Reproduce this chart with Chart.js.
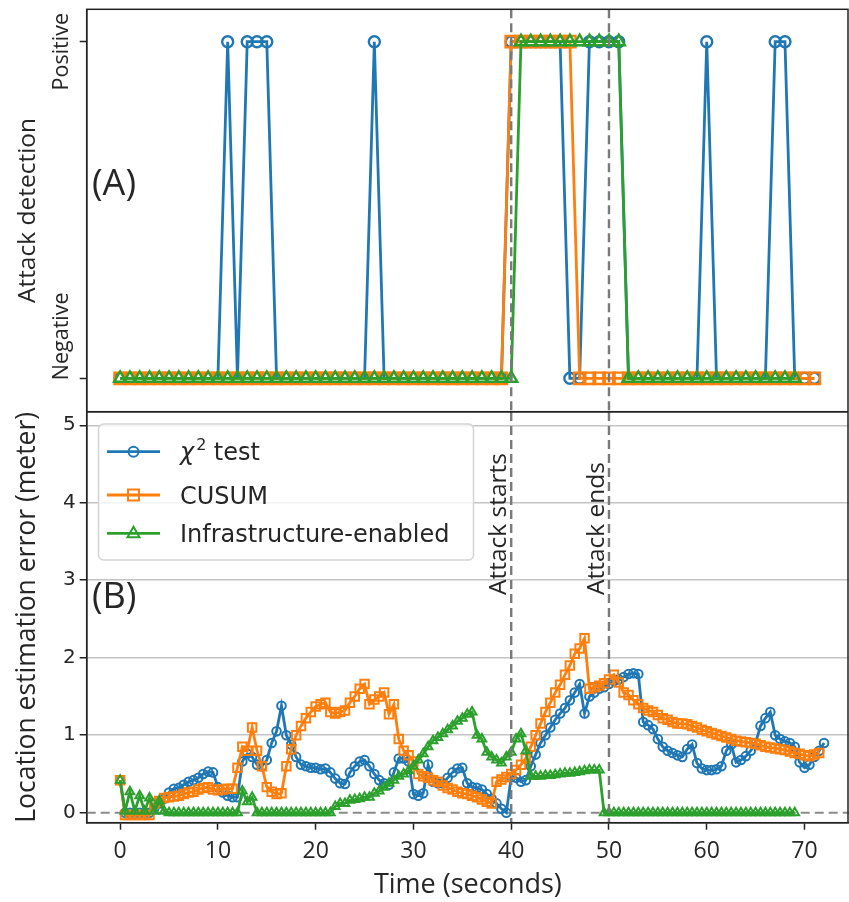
<!DOCTYPE html>
<html>
<head>
<meta charset="utf-8">
<script src="https://cdn.jsdelivr.net/npm/chart.js@4.4.0/dist/chart.umd.min.js"></script>
<style>
  html, body { margin: 0; padding: 0; background: #fff; }
  #wrap { position: relative; width: 849px; height: 902px; overflow: hidden; }
  #wrap canvas { position: absolute; left: 0; }
  #cA { top: 0; }
  #cB { top: 412px; }
</style>
</head>
<body>
<div id="wrap">
  <canvas id="cA" width="849" height="412"></canvas>
  <canvas id="cB" width="849" height="490"></canvas>
</div>
<script>
// ── data ────────────────────────────────────
const DET_STEP = 1;     // seconds between detection samples (panel A)
const ERR_STEP = 0.5;   // seconds between error samples (panel B)

const seriesNames = ['test', 'CUSUM', 'Infrastructure-enabled'];
const timeTicks = [0, 10, 20, 30, 40, 50, 60, 70];
const errTicks = [0, 1, 2, 3, 4, 5];
const detTicks = [0, 1];
const detLabels = ['Negative', 'Positive'];
const attackTimes = [40, 50];
const attackLabels = ['Attack starts', 'Attack ends'];

// panel A: detection result, one value per second
const chiDetect = [0,0,0,0,0,0,0,0,0,0,0, 1,0,1,1,1, 0,0,0,0,0,0,0,0,0,0, 1,
  0,0,0,0,0,0,0,0,0,0,0,0,0, 1,1,1,1,1,1, 0,0, 1,1,1,1, 0,0,0,0,0,0,0,0, 1,
  0,0,0,0,0,0, 1,1, 0,0,0];
const cusumDetect = [0,0,0,0,0,0,0,0,0,0, 0,0,0,0,0,0,0,0,0,0, 0,0,0,0,0,0,0,0,0,0,
  0,0,0,0,0,0,0,0,0,0, 1,1,1,1,1,1,1, 0,0,0, 0,0,0,0,0,0,0,0,0,0, 0,0,0,0,0,0,0,0,0,0, 0,0];
const infraDetect = [0,0,0,0,0,0,0,0,0,0, 0,0,0,0,0,0,0,0,0,0, 0,0,0,0,0,0,0,0,0,0,
  0,0,0,0,0,0,0,0,0,0, 0, 1,1,1,1,1,1,1,1,1,1,1, 0,0,0,0,0,0,0,0,0,0, 0,0,0,0,0,0,0,0];

// panel B: location estimation error (meter), every 0.5 s
const chiError = [
  0.42,0,0,0,0,0,0,0.06,0.12,0.18,
  0.26,0.31,0.32,0.36,0.4,0.42,0.45,0.5,0.53,0.52,
  0.33,0.26,0.22,0.2,0.2,0.66,0.76,0.72,0.62,0.6,
  0.68,0.9,1.05,1.38,1.0,0.88,0.72,0.62,0.6,0.58,
  0.58,0.56,0.57,0.52,0.44,0.38,0.37,0.52,0.6,0.66,
  0.68,0.6,0.5,0.42,0.38,0.36,0.52,0.7,0.7,0.66,
  0.24,0.22,0.25,0.62,0.4,0.38,0.38,0.45,0.52,0.57,
  0.58,0.38,0.33,0.32,0.3,0.24,0.18,0.12,0.05,0.0,
  0.46,0.45,0.4,0.42,0.6,0.75,0.9,1.0,1.1,1.2,
  1.28,1.35,1.45,1.55,1.66,1.28,1.5,1.55,1.6,1.62,
  1.66,1.7,1.72,1.75,1.79,1.8,1.79,1.17,1.13,1.08,
  0.95,0.85,0.8,0.77,0.74,0.72,0.82,0.88,0.64,0.57,
  0.55,0.55,0.56,0.6,0.8,0.88,0.65,0.68,0.73,0.8,
  0.9,1.12,1.22,1.3,1.0,0.95,0.92,0.9,0.85,0.65,
  0.58,0.62,0.72,0.8,0.9
];
const cusumError = [
  0.42,-0.03,-0.03,-0.03,-0.03,-0.03,-0.03,0.12,0.15,0.19,
  0.2,0.21,0.22,0.24,0.26,0.27,0.3,0.32,0.33,0.3,
  0.29,0.3,0.31,0.31,0.58,0.85,0.8,1.1,0.8,0.6,
  0.33,0.27,0.24,0.25,0.6,0.82,1.0,1.12,1.22,1.3,
  1.37,1.4,1.42,1.3,1.28,1.3,1.32,1.42,1.5,1.6,
  1.66,1.4,1.46,1.5,1.55,1.27,1.4,0.95,0.8,0.74,
  0.66,0.5,0.47,0.45,0.42,0.4,0.35,0.32,0.3,0.27,
  0.25,0.24,0.22,0.2,0.17,0.14,0.12,0.4,0.43,0.46,
  0.5,0.55,0.62,0.7,0.85,1.0,1.15,1.3,1.42,1.55,
  1.65,1.78,1.9,2.05,2.12,2.25,1.6,1.62,1.64,1.67,
  1.72,1.78,1.68,1.55,1.52,1.45,1.4,1.35,1.32,1.3,
  1.26,1.22,1.2,1.17,1.15,1.15,1.14,1.12,1.1,1.07,
  1.05,1.03,1.01,0.99,0.97,0.95,0.93,0.92,0.91,0.9,
  0.89,0.87,0.85,0.84,0.83,0.82,0.81,0.79,0.77,0.76,
  0.74,0.73,0.75,0.77
];
const infraError = [
  0.42,0.02,0.27,0.02,0.22,0.02,0.19,0.02,0.15,0.02,
  0,0,0,0,0,0,0,0,0,0,
  0,0,0,0,0,0.28,0.14,0.2,0,0,
  0,0,0,0,0,0,0,0,0,0,
  0,0,0,0,0.08,0.12,0.12,0.16,0.17,0.18,
  0.2,0.2,0.25,0.28,0.33,0.38,0.42,0.47,0.5,0.54,
  0.6,0.68,0.76,0.85,0.93,0.97,1.02,1.07,1.12,1.18,
  1.22,1.27,1.3,1.0,0.95,0.78,0.72,0.68,0.64,0.72,
  0.78,0.95,1.02,0.8,0.47,0.47,0.47,0.48,0.48,0.49,
  0.5,0.51,0.51,0.52,0.53,0.54,0.55,0.55,0.55,0,
  0,0,0,0,0,0,0,0,0,0,
  0,0,0,0,0,0,0,0,0,0,
  0,0,0,0,0,0,0,0,0,0,
  0,0,0,0,0,0,0,0,0
];

// ── style ───────────────────────────────────
const COLORS = ['#1f77b4', '#ff7f0e', '#2ca02c'];
const STYLES = ['circle', 'rect', 'triangle'];
const INK = '#262626';
const X_MIN = -3.42, X_MAX = 74.55;

Chart.defaults.font.family = '"Open Sans"';
Chart.defaults.color = INK;

function toPoints(vals, step) {
  return vals.map((v, i) => ({ x: i * step, y: v }));
}

function lineSet(k, vals, step, big) {
  return {
    label: seriesNames[k],
    data: toPoints(vals, step),
    borderColor: COLORS[k],
    backgroundColor: 'rgba(0,0,0,0)',
    borderWidth: 2.8,
    pointStyle: STYLES[k],
    pointRadius: big ? [5.5, 8, 7][k] : [4.3, 6, 5][k],
    pointBorderWidth: big ? 2.4 : 2,
    pointBorderColor: COLORS[k],
    pointBackgroundColor: 'rgba(0,0,0,0)',
    tension: 0,
    order: 3 - k,
  };
}

function vLine(ctx, x, y0, y1) {
  ctx.beginPath(); ctx.moveTo(x, y0); ctx.lineTo(x, y1); ctx.stroke();
}

// dashed attack markers (+ labels on panel B)
const attackPlugin = {
  id: 'attack',
  afterDatasetsDraw(chart, args, opts) {
    const { ctx, chartArea: a, scales } = chart;
    ctx.save();
    ctx.strokeStyle = '#7a7a7a';
    ctx.lineWidth = 2.4;
    ctx.setLineDash([9, 5]);
    attackTimes.forEach(t => vLine(ctx, scales.x.getPixelForValue(t), a.top, a.bottom));
    ctx.restore();
    if (!opts.labels) return;
    ctx.save();
    ctx.fillStyle = INK;
    ctx.font = '24.5px "Open Sans"';
    ctx.textAlign = 'left';
    ctx.textBaseline = 'alphabetic';
    const yStart = scales.y.getPixelForValue(2.81);
    attackTimes.forEach((t, i) => {
      ctx.save();
      ctx.translate(scales.x.getPixelForValue(t) - 5, yStart);
      ctx.rotate(-Math.PI / 2);
      ctx.fillText(attackLabels[i], 0, 0);
      ctx.restore();
    });
    ctx.restore();
  }
};

// axes frame
const framePlugin = {
  id: 'frame',
  afterDraw(chart) {
    const { ctx, chartArea: a } = chart;
    ctx.save();
    ctx.strokeStyle = '#222';
    ctx.lineWidth = 1.5;
    ctx.strokeRect(a.left, a.top, a.right - a.left - 1, a.bottom - a.top);
    ctx.restore();
  }
};

// panel letter
const letterPlugin = {
  id: 'letter',
  afterDraw(chart, args, opts) {
    const { ctx } = chart;
    ctx.save();
    ctx.fillStyle = INK;
    ctx.font = '36px "Open Sans"';
    ctx.textBaseline = 'middle';
    ctx.fillText(opts.text, opts.x, opts.y);
    ctx.restore();
  }
};

// rotated Negative / Positive tick labels
const detLabelPlugin = {
  id: 'detLabels',
  afterDraw(chart) {
    const { ctx, scales: { y } } = chart;
    const shift = [-42, 10];
    ctx.save();
    ctx.fillStyle = INK;
    ctx.font = '21.5px "Open Sans"';
    ctx.textAlign = 'center';
    ctx.textBaseline = 'middle';
    detTicks.forEach((v, i) => {
      ctx.save();
      ctx.translate(62, y.getPixelForValue(v) + shift[i]);
      ctx.rotate(-Math.PI / 2);
      ctx.fillText(detLabels[i], 0, 0);
      ctx.restore();
    });
    ctx.restore();
  }
};

// dashed zero reference in panel B
const zeroPlugin = {
  id: 'zero',
  beforeDatasetsDraw(chart) {
    const { ctx, chartArea: a, scales: { y } } = chart;
    const py = y.getPixelForValue(0);
    ctx.save();
    ctx.strokeStyle = '#8a8a8a';
    ctx.lineWidth = 2;
    ctx.setLineDash([9, 5]);
    ctx.beginPath(); ctx.moveTo(a.left, py); ctx.lineTo(a.right, py); ctx.stroke();
    ctx.restore();
  }
};

function drawMarker(ctx, k, x, y) {
  ctx.beginPath();
  if (k === 0) ctx.arc(x, y, 5, 0, Math.PI * 2);
  else if (k === 1) ctx.rect(x - 5.5, y - 5.5, 11, 11);
  else { ctx.moveTo(x, y - 6.5); ctx.lineTo(x + 6, y + 4); ctx.lineTo(x - 6, y + 4); ctx.closePath(); }
  ctx.stroke();
}

// legend box drawn inside panel B
const legendPlugin = {
  id: 'boxLegend',
  afterDraw(chart) {
    const { ctx } = chart;
    const bx = 98.5, by = 12, bw = 375, bh = 136, rows = [39.7, 83, 121.3];
    ctx.save();
    ctx.fillStyle = 'rgba(255,255,255,0.8)';
    ctx.strokeStyle = '#d4d4d4';
    ctx.lineWidth = 1.5;
    ctx.beginPath();
    ctx.roundRect(bx, by, bw, bh, 5);
    ctx.fill(); ctx.stroke();
    rows.forEach((ry, k) => {
      ctx.strokeStyle = COLORS[k];
      ctx.lineWidth = 2.8;
      ctx.beginPath(); ctx.moveTo(107, ry); ctx.lineTo(160, ry); ctx.stroke();
      ctx.lineWidth = 2;
      drawMarker(ctx, k, 133.5, ry);
      ctx.fillStyle = INK;
      ctx.textBaseline = 'alphabetic';
      const base = ry + 8.5;
      if (k === 0) {
        ctx.font = 'italic 24px "DejaVu Sans"';
        ctx.fillText('χ', 180, base);
        const w = ctx.measureText('χ').width;
        ctx.font = '16px "DejaVu Sans"';
        ctx.fillText('2', 180 + w + 2, base - 10);
        ctx.font = '24px "DejaVu Sans"';
        ctx.fillText(' ' + seriesNames[0], 180 + w + 12, base);
      } else {
        ctx.font = '24px "DejaVu Sans"';
        ctx.fillText(seriesNames[k], 180, base);
      }
    });
    ctx.restore();
  }
};

// keep the plot box exactly where the reference has it
const fitY = s => { s.width = 86.7; s.paddingTop = 0; s.paddingBottom = 0; };
const fitX = h => s => { s.height = h; s.paddingLeft = 0; s.paddingRight = 0; };

// ── panel A ─────────────────────────────────
new Chart(document.getElementById('cA'), {
  type: 'line',
  data: {
    datasets: [
      lineSet(0, chiDetect, DET_STEP, true),
      lineSet(1, cusumDetect, DET_STEP, true),
      lineSet(2, infraDetect, DET_STEP, true),
    ]
  },
  options: {
    responsive: false, animation: false, events: [],
    layout: { autoPadding: false, padding: { left: 0, top: 9.3, right: 0, bottom: 0.3 } },
    plugins: { legend: { display: false }, tooltip: { enabled: false },
      attack: { labels: false }, letter: { text: '(A)', x: 92, y: 185 } },
    scales: {
      x: { type: 'linear', min: X_MIN, max: X_MAX, display: false, afterFit: fitX(0) },
      y: {
        type: 'linear', min: -0.0992, max: 1.0963,
        afterBuildTicks: s => { s.ticks = detTicks.map(v => ({ value: v })); },
        afterFit: fitY,
        ticks: { callback: () => '' },
        grid: { drawOnChartArea: false, tickLength: 7, tickColor: '#222', tickWidth: 1.5 },
        border: { color: '#222', width: 1.5 },
        title: { display: true, text: 'Attack detection', color: INK,
          font: { size: 24.5, family: '"Open Sans"' }, padding: { top: 13 } }
      }
    }
  },
  plugins: [attackPlugin, framePlugin, letterPlugin, detLabelPlugin]
});

// ── panel B ─────────────────────────────────
new Chart(document.getElementById('cB'), {
  type: 'line',
  data: {
    datasets: [
      lineSet(0, chiError, ERR_STEP, false),
      lineSet(1, cusumError, ERR_STEP, false),
      lineSet(2, infraError, ERR_STEP, false),
    ]
  },
  options: {
    responsive: false, animation: false, events: [],
    layout: { autoPadding: false, padding: { left: 0, top: 0, right: 0, bottom: 0 } },
    plugins: { legend: { display: false }, tooltip: { enabled: false },
      attack: { labels: true }, letter: { text: '(B)', x: 92, y: 186 } },
    scales: {
      x: {
        type: 'linear', min: X_MIN, max: X_MAX,
        afterBuildTicks: s => { s.ticks = timeTicks.map(v => ({ value: v })); },
        afterFit: fitX(79.3),
        ticks: { font: { size: 23, family: '"Open Sans"' }, color: INK, padding: 8, maxRotation: 0 },
        grid: { drawOnChartArea: false, tickLength: 7, tickColor: '#222', tickWidth: 1.5 },
        border: { color: '#222', width: 1.5 },
        title: { display: true, text: 'Time (seconds)', color: INK,
          font: { size: 27, family: '"Open Sans"' }, padding: { top: 0, bottom: 0 } }
      },
      y: {
        type: 'linear', min: -0.129, max: 5.171,
        afterBuildTicks: s => { s.ticks = errTicks.map(v => ({ value: v })); },
        afterFit: fitY,
        ticks: { font: { size: 20, family: '"DejaVu Sans"' }, color: INK, padding: 4 },
        grid: {
          color: c => (c.tick && c.tick.value === 0) ? 'rgba(0,0,0,0)' : '#c4c4c4',
          lineWidth: 1.5, tickLength: 7, tickColor: '#222', tickWidth: 1.5
        },
        border: { color: '#222', width: 1.5 },
        title: { display: true, text: 'Location estimation error (meter)', color: INK,
          font: { size: 26.5, family: '"Open Sans"' }, padding: { top: 12 } }
      }
    }
  },
  plugins: [zeroPlugin, attackPlugin, legendPlugin, framePlugin, letterPlugin]
});
</script>
</body>
</html>
